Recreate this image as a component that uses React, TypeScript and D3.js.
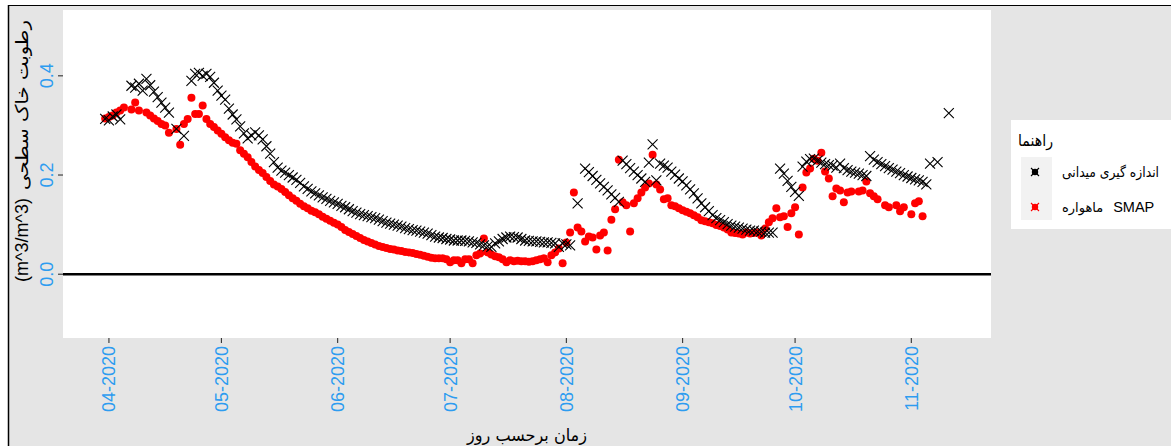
import React from "react";
import * as d3 from "d3";

// day offsets from ORIGIN (2020-04-01) and soil moisture values
const ORIGIN = "2020-04-01";

const fieldSeries: [number, number][] = [
  [-1, 0.313], [0, 0.31], [1, 0.318], [2, 0.322], [3, 0.312],
  [6, 0.38], [7, 0.376], [8, 0.384], [9, 0.37], [10, 0.394], [11, 0.381], [12, 0.368], [13, 0.357], [14, 0.346], [15, 0.336], [16, 0.326],
  [18, 0.293], [20, 0.279],
  [22, 0.39], [23, 0.404], [24, 0.406], [25, 0.4], [26, 0.404], [27, 0.398], [28, 0.386], [29, 0.37], [30, 0.36], [31, 0.352], [32, 0.334],
  [33, 0.322], [34, 0.312], [35, 0.298], [36, 0.284], [37, 0.274], [38, 0.28], [39, 0.286], [40, 0.28], [41, 0.272], [42, 0.258],
  [43, 0.243], [44, 0.226], [45, 0.215], [46, 0.209], [47, 0.205], [48, 0.2], [49, 0.195], [50, 0.19], [51, 0.184], [52, 0.177],
  [53, 0.172], [54, 0.167], [55, 0.163], [56, 0.159], [57, 0.155], [58, 0.152], [59, 0.148], [60, 0.145], [61, 0.142], [62, 0.138],
  [63, 0.135], [64, 0.131], [65, 0.127], [66, 0.124], [67, 0.121], [68, 0.119], [69, 0.117], [70, 0.115], [71, 0.113], [72, 0.11],
  [73, 0.107], [74, 0.104], [75, 0.102], [76, 0.1], [77, 0.098], [78, 0.096], [79, 0.093], [80, 0.091], [81, 0.089], [82, 0.088],
  [83, 0.086], [84, 0.084], [85, 0.082], [86, 0.079], [87, 0.076], [88, 0.074], [89, 0.073], [90, 0.071], [91, 0.07], [92, 0.068],
  [93, 0.068], [94, 0.068], [95, 0.067], [96, 0.066], [97, 0.064], [98, 0.063], [99, 0.06], [100, 0.058], [101, 0.056], [102, 0.055],
  [103, 0.062], [104, 0.066], [105, 0.071], [106, 0.074], [107, 0.076], [108, 0.075], [109, 0.074], [110, 0.071], [111, 0.068], [112, 0.067],
  [113, 0.066], [114, 0.066], [115, 0.065], [116, 0.064], [117, 0.064], [118, 0.063], [119, 0.062], [120, 0.055], [121, 0.062], [122, 0.06],
  [123, 0.058], [125, 0.143],
  [127, 0.213], [128, 0.206], [129, 0.198], [130, 0.19], [131, 0.183], [132, 0.176], [133, 0.169], [134, 0.161], [135, 0.154], [136, 0.146],
  [137, 0.229], [138, 0.222], [139, 0.214], [140, 0.207], [141, 0.2], [142, 0.193], [143, 0.186], [144, 0.225], [145, 0.262], [146, 0.189],
  [147, 0.223], [148, 0.219], [149, 0.215], [150, 0.207], [151, 0.201], [152, 0.193], [153, 0.187], [154, 0.179], [155, 0.171], [156, 0.163],
  [157, 0.153], [158, 0.143], [159, 0.135], [160, 0.127], [161, 0.119], [162, 0.113], [163, 0.109], [164, 0.105], [165, 0.101], [166, 0.098],
  [167, 0.096], [168, 0.094], [169, 0.092], [170, 0.09], [171, 0.088], [172, 0.088], [173, 0.086], [174, 0.086], [175, 0.084], [176, 0.084],
  [177, 0.084],
  [179, 0.213], [180, 0.203], [181, 0.188], [182, 0.176], [183, 0.166], [184, 0.158],
  [185, 0.217], [186, 0.227], [187, 0.232], [188, 0.233], [189, 0.229], [190, 0.225], [191, 0.222], [192, 0.22], [193, 0.219], [194, 0.215],
  [195, 0.223], [196, 0.214], [197, 0.21], [198, 0.207], [199, 0.205], [200, 0.203], [201, 0.2], [202, 0.198],
  [203, 0.238], [204, 0.231], [205, 0.226], [206, 0.222], [207, 0.218], [208, 0.214], [209, 0.211], [210, 0.207], [211, 0.204], [212, 0.2],
  [213, 0.197], [214, 0.194], [215, 0.191], [216, 0.189], [217, 0.186], [218, 0.181],
  [219, 0.223], [221, 0.226], [224, 0.325],
];

const smapSeries: [number, number][] = [
  [-1, 0.314], [0, 0.317], [1, 0.32], [2, 0.326], [3, 0.33], [4, 0.336], [6, 0.332], [7, 0.346], [8, 0.33], [10, 0.326],
  [11, 0.32], [12, 0.314], [13, 0.309], [14, 0.303], [15, 0.3], [16, 0.285], [18, 0.293], [19, 0.261], [20, 0.303], [21, 0.313],
  [22, 0.356], [23, 0.323], [24, 0.323], [25, 0.34], [26, 0.313], [27, 0.303], [28, 0.297], [29, 0.29], [30, 0.283], [31, 0.276],
  [32, 0.27], [33, 0.265], [34, 0.263], [35, 0.25], [36, 0.243], [37, 0.236], [38, 0.226], [39, 0.217], [40, 0.21], [41, 0.204],
  [42, 0.196], [43, 0.188], [44, 0.181], [45, 0.177], [46, 0.172], [47, 0.166], [48, 0.159], [49, 0.153], [50, 0.148], [51, 0.142],
  [52, 0.137], [53, 0.133], [54, 0.128], [55, 0.125], [56, 0.121], [57, 0.116], [58, 0.112], [59, 0.108], [60, 0.104], [61, 0.1],
  [62, 0.095], [63, 0.089], [64, 0.085], [65, 0.081], [66, 0.077], [67, 0.073], [68, 0.069], [69, 0.066], [70, 0.063], [71, 0.06],
  [72, 0.057], [73, 0.055], [74, 0.053], [75, 0.051], [76, 0.05], [77, 0.048], [78, 0.047], [79, 0.045], [80, 0.044], [81, 0.043],
  [82, 0.041], [83, 0.039], [84, 0.037], [85, 0.035], [86, 0.033], [87, 0.032], [88, 0.032], [89, 0.032], [90, 0.03], [91, 0.024],
  [92, 0.028], [93, 0.028], [94, 0.022], [95, 0.03], [96, 0.03], [97, 0.022], [98, 0.038], [99, 0.042], [100, 0.072], [101, 0.044],
  [102, 0.04], [103, 0.036], [104, 0.034], [105, 0.03], [106, 0.024], [107, 0.028], [108, 0.026], [109, 0.027], [110, 0.026], [111, 0.026],
  [112, 0.025], [113, 0.026], [114, 0.028], [115, 0.03], [116, 0.032], [117, 0.024], [118, 0.038], [119, 0.044], [120, 0.052], [121, 0.022],
  [122, 0.064], [123, 0.084], [124, 0.165], [125, 0.094], [126, 0.086], [127, 0.066], [128, 0.076], [129, 0.074], [130, 0.05], [131, 0.078],
  [132, 0.084], [133, 0.048], [134, 0.11], [135, 0.131], [136, 0.231], [137, 0.145], [138, 0.139], [139, 0.086], [140, 0.143], [141, 0.153],
  [142, 0.165], [143, 0.175], [144, 0.183], [145, 0.241], [146, 0.181], [147, 0.171], [148, 0.151], [149, 0.153], [150, 0.139], [151, 0.137],
  [152, 0.133], [153, 0.129], [154, 0.126], [155, 0.123], [156, 0.119], [157, 0.115], [158, 0.109], [159, 0.107], [160, 0.105], [161, 0.103],
  [162, 0.099], [163, 0.097], [164, 0.094], [165, 0.09], [166, 0.084], [167, 0.083], [168, 0.082], [169, 0.08], [170, 0.084], [171, 0.082],
  [172, 0.083], [173, 0.084], [174, 0.078], [175, 0.092], [176, 0.105], [177, 0.113], [178, 0.133], [179, 0.115], [180, 0.117], [181, 0.095],
  [182, 0.123], [183, 0.135], [184, 0.08], [185, 0.175], [186, 0.205], [187, 0.213], [188, 0.233], [189, 0.229], [190, 0.245], [191, 0.207],
  [192, 0.193], [193, 0.157], [194, 0.173], [195, 0.169], [196, 0.145], [197, 0.165], [198, 0.167], [200, 0.167], [201, 0.169], [202, 0.187],
  [203, 0.163], [204, 0.157], [205, 0.151], [207, 0.139], [208, 0.135], [210, 0.139], [211, 0.127], [212, 0.135], [214, 0.121], [215, 0.143],
  [216, 0.147], [217, 0.117],
];

const yTicks = [0, 0.2, 0.4];
const yTickLabels = ["0.0", "0.2", "0.4"];
const monthTicks = ["2020-04-01", "2020-05-01", "2020-06-01", "2020-07-01", "2020-08-01", "2020-09-01", "2020-10-01", "2020-11-01"];
const monthLabels = ["04-2020", "05-2020", "06-2020", "07-2020", "08-2020", "09-2020", "10-2020", "11-2020"];
const yTitleFa = "رطوبت خاک سطحی";
const yTitleUnit = "(m^3/m^3)";
const xTitle = "زمان برحسب روز";
const legendTitle = "راهنما";
const legendField = "اندازه گیری میدانی";
const legendSmapFa = "ماهواره";
const legendSmapEn = "SMAP";

const W = 1171;
const H = 446;
const panel = { l: 63, r: 991, t: 10, b: 338 };
const yDomain = [-0.1286, 0.5327];
const tickBlue = "#2D9CF0";
const arabicFont = "'DejaVu Sans', sans-serif";
const latinFont = "'Liberation Sans', Arial, sans-serif";

export default function App() {
  const parse = d3.utcParse("%Y-%m-%d");
  const origin = parse(ORIGIN) as Date;
  const toDate = (d: number) => d3.utcDay.offset(origin, d);
  const allDays = [...fieldSeries.map((p) => p[0]), ...smapSeries.map((p) => p[0])];
  const t0 = toDate(d3.min(allDays) as number).getTime();
  const t1 = toDate(d3.max(allDays) as number).getTime();
  const pad = (t1 - t0) * 0.05;
  const x = d3.scaleUtc().domain([new Date(t0 - pad), new Date(t1 + pad)]).range([panel.l, panel.r]);
  const y = d3.scaleLinear().domain(yDomain).range([panel.b, panel.t]);
  const cross = "M-5,-5L5,5M-5,5L5,-5";
  const keyCross = "M-4,-4L4,4M-4,4L4,-4";

  return (
    <>
      <style>{"body{margin:0}"}</style>
      <svg width={W} height={H} style={{ display: "block" }}>
        <rect x={0} y={0} width={W} height={H} fill="#ffffff" />
        <rect x={9} y={6} width={W - 9} height={H - 6} fill="#E5E5E5" />
        <line x1={8.5} x2={8.5} y1={5} y2={H} stroke="#000" strokeWidth={1.5} />
        <line x1={8} x2={W} y1={5.5} y2={5.5} stroke="#000" strokeWidth={1.2} />
        <rect x={panel.l} y={panel.t} width={panel.r - panel.l} height={panel.b - panel.t} fill="#ffffff" />

        {/* zero line */}
        <line x1={panel.l} x2={panel.r} y1={y(0)} y2={y(0)} stroke="#000" strokeWidth={2.6} />

        {/* SMAP points */}
        <g fill="#FF0000">
          {smapSeries.map(([d, v], i) => (
            <circle key={i} cx={x(toDate(d))} cy={y(v)} r={4} />
          ))}
        </g>
        {/* field points */}
        <g stroke="#000" strokeWidth={1.1} fill="none">
          {fieldSeries.map(([d, v], i) => (
            <path key={i} d={cross} transform={`translate(${x(toDate(d))},${y(v)})`} />
          ))}
        </g>

        {/* y axis */}
        {yTicks.map((t, i) => (
          <g key={i}>
            <line x1={panel.l - 5} x2={panel.l} y1={y(t)} y2={y(t)} stroke="#333" strokeWidth={1.1} />
            <text
              transform={`translate(53,${y(t)}) rotate(-90)`}
              textAnchor="middle"
              fontFamily={latinFont}
              fontSize={18}
              fill={tickBlue}
            >
              {yTickLabels[i]}
            </text>
          </g>
        ))}

        {/* x axis */}
        {monthTicks.map((m, i) => {
          const px = x(parse(m) as Date);
          return (
            <g key={m}>
              <line x1={px} x2={px} y1={panel.b} y2={panel.b + 5} stroke="#333" strokeWidth={1.1} />
              <text
                transform={`translate(${px + 6.5},${panel.b + 8}) rotate(-90)`}
                textAnchor="end"
                fontFamily={latinFont}
                fontSize={18}
                fill={tickBlue}
              >
                {monthLabels[i]}
              </text>
            </g>
          );
        })}

        {/* axis titles */}
        <text
          transform={`translate(28,105) rotate(-90)`}
          textAnchor="middle"
          fontFamily={arabicFont}
          fontSize={17}
          fill="#000"
          textLength={170}
          lengthAdjust="spacingAndGlyphs"
        >
          {yTitleFa}
        </text>
        <text
          transform={`translate(28,240) rotate(-90)`}
          textAnchor="middle"
          fontFamily={latinFont}
          fontSize={18}
          fill="#000"
        >
          {yTitleUnit}
        </text>
        <text
          x={(panel.l + panel.r) / 2}
          y={441}
          textAnchor="middle"
          fontFamily={arabicFont}
          fontSize={17}
          fill="#000"
          textLength={120}
          lengthAdjust="spacingAndGlyphs"
        >
          {xTitle}
        </text>

        {/* legend */}
        <rect x={1011} y={120} width={W - 1011} height={109} fill="#ffffff" />
        <text x={1018} y={146} fontFamily={arabicFont} fontSize={16} fill="#000" textLength={35} lengthAdjust="spacingAndGlyphs">
          {legendTitle}
        </text>
        <rect x={1021} y={157} width={31} height={63} fill="#F2F2F2" />
        <g>
          <circle cx={1035} cy={172} r={3.2} fill="#000" />
          <path d={keyCross} transform="translate(1035,172)" stroke="#000" strokeWidth={1.1} fill="none" />
          <circle cx={1035} cy={207} r={3.2} fill="#FF0000" />
          <path d={keyCross} transform="translate(1035,207)" stroke="#FF0000" strokeWidth={1.1} fill="none" />
        </g>
        <text x={1062} y={177} fontFamily={arabicFont} fontSize={14} fill="#000" textLength={97} lengthAdjust="spacingAndGlyphs">
          {legendField}
        </text>
        <text x={1062} y={212} fill="#000" fontFamily={arabicFont} fontSize={13}>
          <tspan>{legendSmapFa}</tspan>
          <tspan dx={10} fontFamily={latinFont} fontSize={14.5}>
            {legendSmapEn}
          </tspan>
        </text>
      </svg>
    </>
  );
}
